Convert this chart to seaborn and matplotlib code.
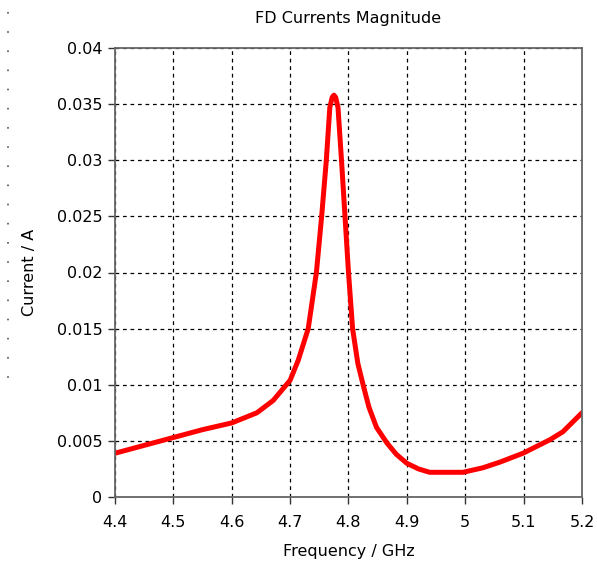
import numpy as np
import pandas as pd
import matplotlib
matplotlib.use("Agg")
import matplotlib.pyplot as plt
import seaborn as sns
from matplotlib.lines import Line2D

freq = [4.40, 4.45, 4.50, 4.55, 4.60, 4.643, 4.671, 4.700, 4.714, 4.731, 4.745,
        4.754, 4.762, 4.768, 4.772, 4.775, 4.778, 4.782, 4.788, 4.794, 4.800,
        4.807, 4.816, 4.825, 4.835, 4.848, 4.866, 4.882, 4.900, 4.920, 4.939,
        4.960, 4.996, 5.030, 5.059, 5.099, 5.145, 5.167, 5.200]
current = [0.0039, 0.0046, 0.0053, 0.0060, 0.0066, 0.0075, 0.0086, 0.0104, 0.0122,
           0.0150, 0.0200, 0.0250, 0.0300, 0.0347, 0.0356, 0.0358, 0.0356, 0.0347,
           0.0300, 0.0250, 0.0200, 0.0150, 0.0119, 0.0100, 0.0080, 0.0062, 0.0048,
           0.0038, 0.0030, 0.0025, 0.0022, 0.0022, 0.0022, 0.0026, 0.0031, 0.0039,
           0.0051, 0.0058, 0.0075]
xticks = [4.4, 4.5, 4.6, 4.7, 4.8, 4.9, 5.0, 5.1, 5.2]
xtick_labels = ["4.4", "4.5", "4.6", "4.7", "4.8", "4.9", "5", "5.1", "5.2"]
yticks = [0, 0.005, 0.01, 0.015, 0.02, 0.025, 0.03, 0.035, 0.04]
ytick_labels = ["0", "0.005", "0.01", "0.015", "0.02", "0.025", "0.03", "0.035", "0.04"]

df = pd.DataFrame({"Frequency": freq, "Current": current})

sns.set_style("white")
plt.rcParams["font.family"] = ["DejaVu Sans"]
plt.rcParams["text.color"] = "black"
plt.rcParams["axes.labelcolor"] = "black"
plt.rcParams["xtick.color"] = "black"
plt.rcParams["ytick.color"] = "black"

fig = plt.figure(figsize=(5.97, 5.64), dpi=100)
ax = fig.add_axes([115/597, 1-497/564, (582-115)/597, (497-48)/564])

sns.lineplot(data=df, x="Frequency", y="Current", ax=ax, color="#ff0000",
             linewidth=3.6, sort=False, solid_joinstyle="round",
             solid_capstyle="round")

ax.set_xlim(4.4, 5.2)
ax.set_ylim(0, 0.04)
ax.set_xticks(xticks)
ax.set_xticklabels(xtick_labels)
ax.set_yticks(yticks)
ax.set_yticklabels(ytick_labels)
ax.tick_params(direction="out", length=5, width=1, color="#333333",
               labelsize=11.5, pad=4, bottom=True, left=True)
ax.tick_params(axis="x", pad=8)
ax.grid(True, color="#000000", linestyle=(0, (3, 3)), linewidth=0.9)
for s in ax.spines.values():
    s.set_color("#666666")
    s.set_linewidth(1.3)

ax.set_title("FD Currents Magnitude", fontsize=11.5, pad=18)
ax.set_xlabel("Frequency / GHz", fontsize=11.5, labelpad=10)
ax.set_ylabel("Current / A", fontsize=11.5, labelpad=14)

fig.add_artist(Line2D([8/597, 8/597], [1-12/564, 1-392/564],
                      transform=fig.transFigure, color="#555555",
                      linewidth=1.2, linestyle=(0, (1, 10.5))))

fig.savefig("out.png", dpi=100)
